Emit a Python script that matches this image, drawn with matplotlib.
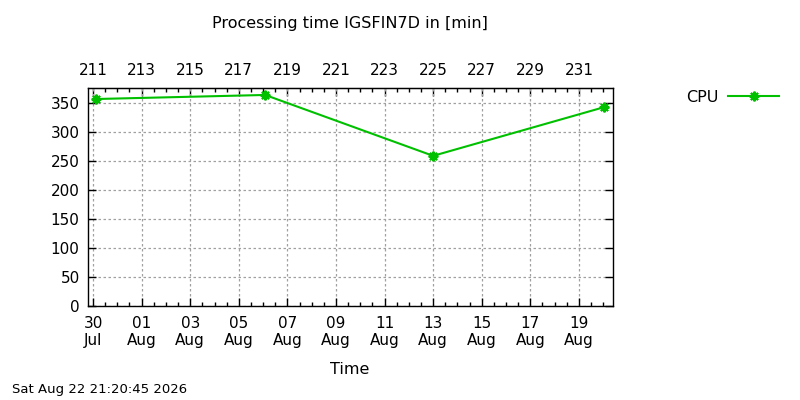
import numpy as np
import matplotlib
matplotlib.use('Agg')
import matplotlib.pyplot as plt
import matplotlib.dates as mdates
from datetime import datetime

# data
times = ['2026-07-30 03:00', '2026-08-06 02:00', '2026-08-13 00:00', '2026-08-20 01:00']
cpu = [357, 364, 259, 343]

day_ticks = ['2026-07-30', '2026-08-01', '2026-08-03', '2026-08-05', '2026-08-07',
             '2026-08-09', '2026-08-11', '2026-08-13', '2026-08-15', '2026-08-17',
             '2026-08-19']
doy_ticks = [211, 213, 215, 217, 219, 221, 223, 225, 227, 229, 231]

title = 'Processing time IGSFIN7D in [min]'
stamp = 'Sat Aug 22 21:20:45 2026'

green = '#00c000'
plt.rcParams['font.family'] = ['DejaVu Sans']
plt.rcParams['font.size'] = 9

t = [datetime.strptime(s, '%Y-%m-%d %H:%M') for s in times]
ticks = [datetime.strptime(s, '%Y-%m-%d') for s in day_ticks]
jan1 = mdates.date2num(datetime(2026, 1, 1))

fig = plt.figure(figsize=(8, 4), dpi=100)
ax = fig.add_axes([0.11, 0.235, 0.656, 0.545])

ax.plot(t, cpu, color=green, lw=1.5, marker=(8, 2, 0), ms=7, mew=1.5, label='CPU')

ax.set_xlim(datetime(2026, 7, 29, 19, 0), datetime(2026, 8, 20, 9, 30))
ax.set_ylim(0, 376)
ax.set_yticks(np.arange(0, 351, 50))
ax.set_xticks(ticks)
ax.xaxis.set_major_formatter(mdates.DateFormatter('%d\n%b'))
ax.xaxis.set_minor_locator(mdates.HourLocator(byhour=[0, 12]))

ax.grid(True, which='major', color='#a0a0a0', ls=(0, (2, 2)), lw=0.9)
ax.tick_params(which='both', direction='in', top=False, right=True, width=1, labelsize=11)
ax.tick_params(which='major', length=6)
ax.tick_params(which='minor', length=3)
ax.tick_params(axis='x', pad=7)
ax.tick_params(axis='y', pad=6)
for sp in ax.spines.values():
    sp.set_linewidth(1)

sec = ax.secondary_xaxis('top', functions=(lambda x: x - jan1 + 1, lambda d: d + jan1 - 1))
sec.set_xticks(doy_ticks)
sec.xaxis.set_minor_locator(matplotlib.ticker.MultipleLocator(0.5))
sec.tick_params(which='both', direction='in', labelsize=11, width=1, pad=7)
sec.tick_params(which='major', length=6)
sec.tick_params(which='minor', length=3)

fig.text(0.4375, 0.942, title, ha='center', va='center', fontsize=11.5)
fig.text(0.4375, 0.077, 'Time', ha='center', va='center', fontsize=11.5)
fig.text(0.015, 0.025, stamp, ha='left', va='center', fontsize=9.5)

fig.legend(loc='center left', bbox_to_anchor=(0.84, 0.757), frameon=False,
           markerfirst=False, fontsize=11.5, handlelength=3.2, handletextpad=0.6)

fig.savefig('out.png', dpi=100)
